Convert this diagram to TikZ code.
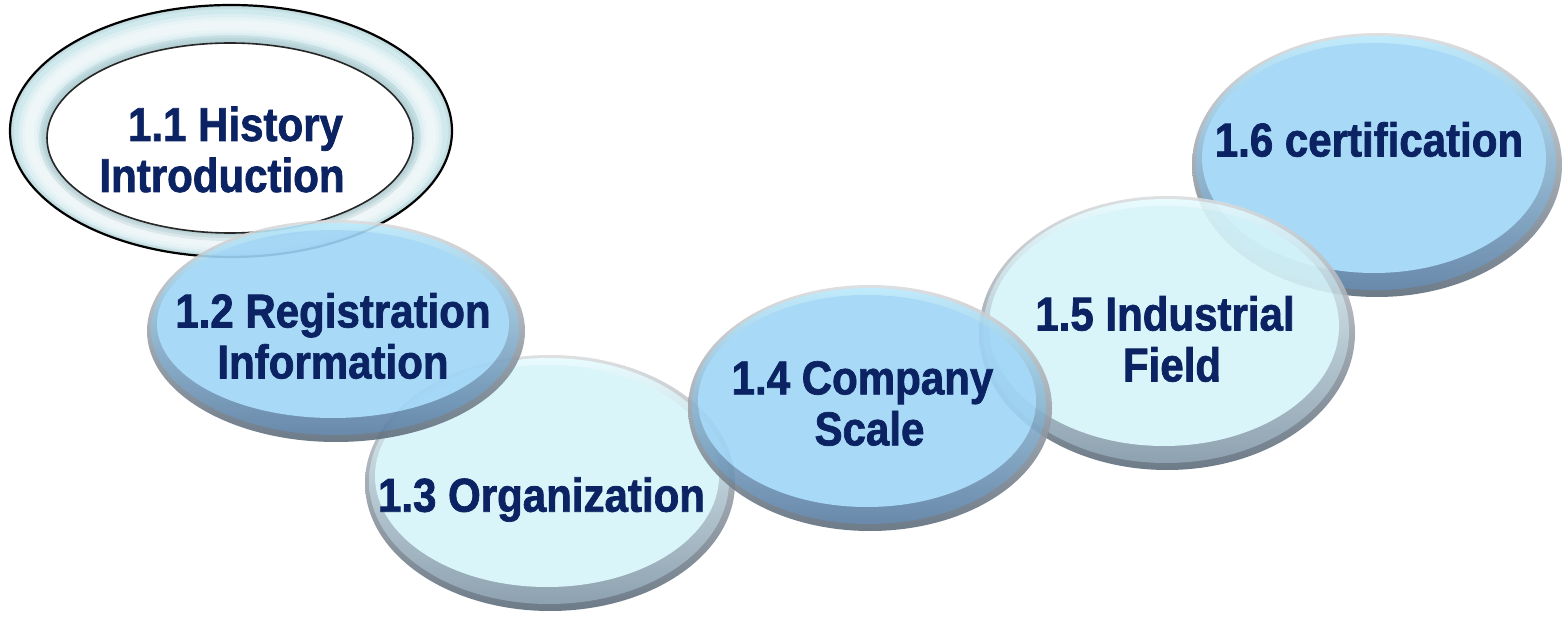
\documentclass[tikz,border=0pt]{standalone}
\usepackage{fontspec}
\setmainfont{Liberation Sans}
\newfontfamily\lblfont{Liberation Sans}[FakeStretch=0.885, FakeBold=1.5]
\definecolor{navy}{HTML}{0B2362}
\definecolor{fillB}{HTML}{9FD5F6}
\definecolor{fillC}{HTML}{D6F4F9}
\definecolor{hiB}{HTML}{B9E9FC}
\definecolor{hiC}{HTML}{E6FBFE}
\definecolor{rimL}{HTML}{DADCDE}
\definecolor{rimD}{HTML}{5E6D7C}
\definecolor{bevB}{HTML}{5A7DA2}
\definecolor{bevC}{HTML}{8398A8}
\definecolor{ringC}{HTML}{CFE9ED}
\definecolor{ringD}{HTML}{A3BEC3}
\tikzset{
  lbl/.style={font=\lblfont\bfseries\fontsize{47.5}{51}\selectfont, text=navy, align=center, inner sep=0pt},
}
\newcommand\mybubble[7]{%
  \begin{scope}[transparency group, opacity=0.9]
    \shade[top color=rimL, bottom color=rimD] (#1,#2) ellipse [x radius=#3pt, y radius=#4pt];
    \shade[top color=#6, bottom color=#7] (#1-1,#2-2) ellipse [x radius=#3pt-5pt, y radius=#4pt-5pt];
    \fill[#5] (#1-3,#2-7) ellipse [x radius=#3pt-13pt, y radius=#4pt-17pt];
  \end{scope}
}
\begin{document}
\begin{tikzpicture}[x=1pt,y=-1pt]
\useasboundingbox (0,0) rectangle (1563,617);
\fill[white] (0,0) rectangle (1563,617);
% 1.1 ring
\fill[ringC, even odd rule] (231,131) ellipse[x radius=221pt,y radius=126pt] (230,138) ellipse[x radius=183pt,y radius=95pt];
\begin{scope}[even odd rule]
  \clip (231,131) ellipse[x radius=221pt,y radius=126pt] (230,138) ellipse[x radius=183pt,y radius=95pt];
  \foreach \w in {22,15,9} {
    \draw[white, line width=\w pt, opacity=0.3] (230.5,134) ellipse[x radius=201pt, y radius=109pt];
  }
  \foreach \w in {16,10,5} {
    \draw[ringD, line width=\w pt, opacity=0.25] (230,138) ellipse[x radius=183pt,y radius=95pt];
  }
  \foreach \w in {8,4} {
    \draw[ringD, line width=\w pt, opacity=0.2] (231,131) ellipse[x radius=221pt,y radius=126pt];
  }
\end{scope}
\draw[black, line width=2.2pt] (231,131) ellipse[x radius=221pt,y radius=126pt];
\draw[black!85, line width=1.6pt] (230,138) ellipse[x radius=183pt,y radius=95pt];
% bubbles
\mybubble{550}{483}{185}{128}{fillC}{hiC}{bevC}
\mybubble{336}{331}{189}{111}{fillB}{hiB}{bevB}
\mybubble{1377}{165}{185}{132}{fillB}{hiB}{bevB}
\mybubble{1167}{333}{188}{137}{fillC}{hiC}{bevC}
\mybubble{870}{408}{182}{123}{fillB}{hiB}{bevB}
% labels
\node[lbl] (n11) at (222,149.5) {\hspace*{27pt}1.1 History\\Introduction};
\node[lbl] (n12) at (333,336) {1.2 Registration\\Information};
\node[lbl] (n13) at (541.5,499.5) {1.3 Organization};
\node[lbl] (n14) at (869.5,403.5) {1.4 Company\hspace*{14pt}\\Scale};
\node[lbl] (n15) at (1172,339) {1.5 Industrial\hspace*{14pt}\\Field};
\node[lbl] (n16) at (1369,139.5) {1.6 certification};
\end{tikzpicture}
\end{document}
